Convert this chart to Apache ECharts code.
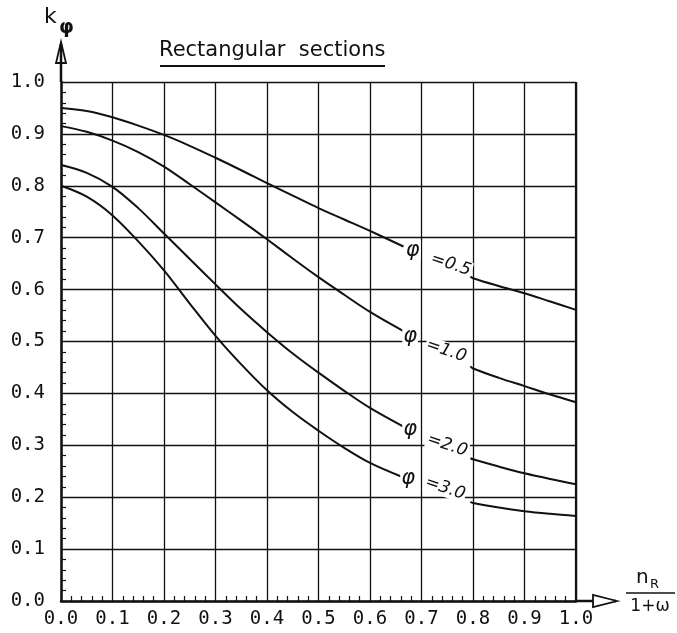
<!DOCTYPE html>
<html>
<head>
<meta charset="utf-8">
<script src="https://cdn.jsdelivr.net/npm/echarts@6/dist/echarts.min.js"></script>
<style>
  html, body { margin: 0; padding: 0; background: #fff; }
  #chart { width: 677px; height: 633px; }
</style>
</head>
<body>
<div id="chart"></div>
<script>
// x positions; '-' in the y lists marks the gap where the label sits
const xPts = [0, 0.05, 0.1, 0.15, 0.2, 0.25, 0.3, 0.35, 0.4, 0.45, 0.5, 0.55, 0.6, 0.665, 0.73, 0.795, 0.8, 0.85, 0.9, 0.95, 1.0];

const phiNames = ['0.5', '1.0', '2.0', '3.0'];
const kPhi05 = [0.950, 0.944, 0.932, 0.916, 0.898, 0.877, 0.854, 0.830, 0.805, 0.781, 0.757, 0.735, 0.713, 0.683, '-', 0.625, 0.622, 0.607, 0.593, 0.577, 0.561];
const kPhi10 = [0.915, 0.904, 0.887, 0.865, 0.837, 0.803, 0.768, 0.733, 0.697, 0.660, 0.624, 0.590, 0.557, 0.520, '-', 0.452, 0.448, 0.430, 0.414, 0.398, 0.383];
const kPhi20 = [0.840, 0.825, 0.798, 0.757, 0.708, 0.659, 0.610, 0.562, 0.518, 0.477, 0.440, 0.405, 0.372, 0.336, '-', 0.275, 0.273, 0.259, 0.246, 0.235, 0.225];
const kPhi30 = [0.800, 0.779, 0.743, 0.693, 0.637, 0.573, 0.511, 0.456, 0.406, 0.364, 0.328, 0.295, 0.266, 0.238, '-', 0.191, 0.189, 0.180, 0.173, 0.168, 0.164];

const axisTicks = [0, 0.1, 0.2, 0.3, 0.4, 0.5, 0.6, 0.7, 0.8, 0.9, 1.0];

// where the curve labels sit, in data units
const phiAnchors = [[0.683, 0.676], [0.678, 0.509], [0.678, 0.330], [0.674, 0.235]];
const eqAnchors = [[0.757, 0.648], [0.748, 0.482], [0.750, 0.300], [0.746, 0.217]];

const ink = '#111';
const chart = echarts.init(document.getElementById('chart'));

function pairs(ys) {
  return xPts.map((x, i) => [x, ys[i]]);
}

const curves = [kPhi05, kPhi10, kPhi20, kPhi30];

const axisCommon = {
  type: 'value',
  min: axisTicks[0],
  max: axisTicks[axisTicks.length - 1],
  interval: 0.1,
  axisLine: { show: true, lineStyle: { color: ink, width: 2.5 } },
  axisTick: { show: true, inside: true, length: 0 },
  minorTick: { show: true, splitNumber: 5, length: 5, lineStyle: { color: ink, width: 1.2 } },
  splitLine: { show: true, lineStyle: { color: ink, width: 1.3 } },
  axisLabel: {
    formatter: v => v.toFixed(1),
    fontFamily: 'DejaVu Sans Mono',
    fontSize: 19,
    color: ink
  }
};

const option = {
  animation: false,
  backgroundColor: '#fff',
  grid: { left: 61, right: 101, top: 82, bottom: 32, containLabel: false },
  xAxis: Object.assign({}, axisCommon, {
    axisLabel: Object.assign({}, axisCommon.axisLabel, { margin: 9 })
  }),
  yAxis: Object.assign({}, axisCommon, {
    axisLabel: Object.assign({}, axisCommon.axisLabel, { margin: 16 })
  }),
  series: curves.map((ys, i) => ({
    name: 'φ=' + phiNames[i],
    type: 'line',
    data: pairs(ys),
    smooth: 0.35,
    showSymbol: false,
    symbol: 'none',
    connectNulls: false,
    lineStyle: { color: ink, width: 2 }
  }))
};

chart.setOption(option);

const o = chart.convertToPixel({ gridIndex: 0 }, [0, 0]);
const c = chart.convertToPixel({ gridIndex: 0 }, [1, 1]);

const graphics = [];

// title
graphics.push({
  type: 'text', x: 159, y: 51,
  style: { text: 'Rectangular  sections', fontFamily: 'DejaVu Sans', fontSize: 21, fill: ink, verticalAlign: 'middle' }
});
graphics.push({
  type: 'line', shape: { x1: 160, y1: 66, x2: 385, y2: 66 },
  style: { stroke: ink, lineWidth: 2 }
});

// right frame
graphics.push({
  type: 'line', shape: { x1: c[0], y1: c[1], x2: c[0], y2: o[1] },
  style: { stroke: ink, lineWidth: 2.2 }
});

// y axis arrow
graphics.push({
  type: 'line', shape: { x1: o[0], y1: c[1], x2: o[0], y2: c[1] - 38 },
  style: { stroke: ink, lineWidth: 2.5 }
});
graphics.push({
  type: 'polygon',
  shape: { points: [[o[0], c[1] - 40], [o[0] - 5, c[1] - 19], [o[0] + 5, c[1] - 19]] },
  style: { fill: 'none', stroke: ink, lineWidth: 1.8 }
});

// x axis arrow
graphics.push({
  type: 'line', shape: { x1: c[0], y1: o[1], x2: c[0] + 40, y2: o[1] },
  style: { stroke: ink, lineWidth: 2.5 }
});
graphics.push({
  type: 'polygon',
  shape: { points: [[c[0] + 41, o[1]], [c[0] + 17, o[1] - 6], [c[0] + 17, o[1] + 6]] },
  style: { fill: '#fff', stroke: ink, lineWidth: 1.8 }
});

// axis names
graphics.push({
  type: 'text', x: 44, y: 17,
  style: { text: 'k', fontFamily: 'DejaVu Sans', fontSize: 22, fill: ink, verticalAlign: 'middle' }
});
graphics.push({
  type: 'text', x: 59, y: 28,
  style: { text: 'φ', fontFamily: 'DejaVu Sans', fontSize: 19, fontWeight: 'bold', fill: ink, verticalAlign: 'middle' }
});
graphics.push({
  type: 'text', x: 636, y: 578,
  style: { text: 'n', fontFamily: 'DejaVu Sans', fontSize: 20, fill: ink, verticalAlign: 'middle' }
});
graphics.push({
  type: 'text', x: 650, y: 585,
  style: { text: 'R', fontFamily: 'DejaVu Sans', fontSize: 13, fill: ink, verticalAlign: 'middle' }
});
graphics.push({
  type: 'line', shape: { x1: 626, y1: 593, x2: 675, y2: 593 },
  style: { stroke: ink, lineWidth: 1.5 }
});
graphics.push({
  type: 'text', x: 650, y: 607,
  style: { text: '1+ω', fontFamily: 'DejaVu Sans', fontSize: 17, fill: ink, align: 'center', verticalAlign: 'middle' }
});

// curve labels
phiNames.forEach((name, i) => {
  const p = chart.convertToPixel({ gridIndex: 0 }, phiAnchors[i]);
  const q = chart.convertToPixel({ gridIndex: 0 }, eqAnchors[i]);
  graphics.push({
    type: 'text', x: p[0], y: p[1], z: 10,
    style: {
      text: 'φ', fontFamily: 'DejaVu Sans', fontStyle: 'italic', fontSize: 21, fill: ink,
      align: 'center', verticalAlign: 'middle', backgroundColor: '#fff', padding: [0, 1]
    }
  });
  graphics.push({
    type: 'text', x: q[0], y: q[1], z: 10, rotation: -0.32,
    style: {
      text: '=' + name, fontFamily: 'DejaVu Sans', fontStyle: 'italic', fontSize: 17, fill: ink,
      align: 'center', verticalAlign: 'middle', backgroundColor: '#fff', padding: [0, 1]
    }
  });
});

chart.setOption({ graphic: graphics });
</script>
</body>
</html>
